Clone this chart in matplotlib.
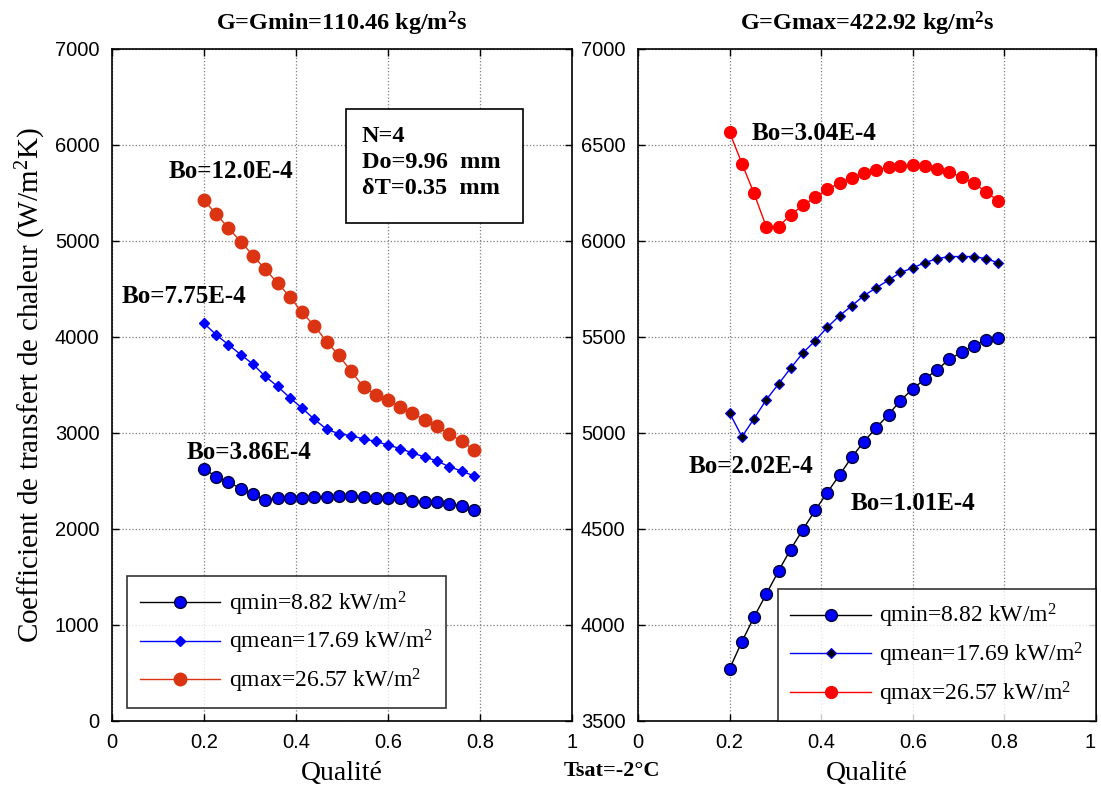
import matplotlib
matplotlib.use("Agg")
import matplotlib.pyplot as plt
from matplotlib.patches import Rectangle

plt.rcParams['mathtext.fontset'] = 'custom'
plt.rcParams['mathtext.rm'] = 'Liberation Serif'
plt.rcParams['mathtext.it'] = 'Liberation Serif:italic'
plt.rcParams['mathtext.bf'] = 'Liberation Serif:bold'

# ---------------- data ----------------
x_qual = [0.200, 0.227, 0.253, 0.280, 0.307, 0.333, 0.360, 0.387, 0.413, 0.440,
          0.467, 0.493, 0.520, 0.547, 0.573, 0.600, 0.627, 0.653, 0.680, 0.707,
          0.733, 0.760, 0.787]

# Left panel: G = Gmin
left_qmin = [2625, 2545, 2490, 2420, 2361, 2302, 2319, 2319, 2319, 2333,
             2337, 2340, 2340, 2337, 2323, 2323, 2319, 2295, 2281, 2278,
             2260, 2240, 2198]
left_qmean = [4142, 4021, 3920, 3816, 3715, 3590, 3486, 3365, 3260, 3142,
              3038, 2993, 2972, 2938, 2913, 2875, 2837, 2792, 2750, 2708,
              2649, 2604, 2552]
left_qmax = [5424, 5278, 5135, 4993, 4847, 4705, 4563, 4417, 4257, 4115,
             3951, 3809, 3642, 3479, 3396, 3340, 3274, 3212, 3132, 3069,
             2990, 2913, 2826]

# Right panel: G = Gmax
right_qmin = [3772, 3914, 4040, 4161, 4282, 4393, 4497, 4598, 4689, 4781,
              4875, 4954, 5027, 5096, 5169, 5230, 5282, 5330, 5384, 5422,
              5455, 5484, 5495]
right_qmean = [5104, 4981, 5073, 5173, 5256, 5337, 5417, 5481, 5550, 5611,
               5663, 5715, 5756, 5796, 5836, 5860, 5888, 5908, 5919, 5919,
               5919, 5908, 5886]
right_qmax = [6566, 6403, 6250, 6075, 6075, 6135, 6186, 6227, 6269, 6302,
              6330, 6352, 6372, 6384, 6392, 6394, 6392, 6373, 6359, 6332,
              6300, 6257, 6208]

legend_labels = [r"qmin=8.82 kW/m$^2$", r"qmean=17.69 kW/m$^2$", r"qmax=26.57 kW/m$^2$"]
titles = [r"G=Gmin=110.46 kg/m$^\mathbf{2}$s", r"G=Gmax=422.92 kg/m$^\mathbf{2}$s"]
x_ticks = [0, 0.2, 0.4, 0.6, 0.8, 1]
x_ticklabels = ["0", "0.2", "0.4", "0.6", "0.8", "1"]
left_yticks = [0, 1000, 2000, 3000, 4000, 5000, 6000, 7000]
right_yticks = [3500, 4000, 4500, 5000, 5500, 6000, 6500, 7000]

SERIF = "Liberation Serif"
SANS = "Liberation Sans"
LEFT_RED = "#DA3412"

fig = plt.figure(figsize=(11.01, 7.89), dpi=100)
W, H = 1101, 789
axL = fig.add_axes([112 / W, (H - 721) / H, 460 / W, 672 / H])
axR = fig.add_axes([638 / W, (H - 721) / H, 458 / W, 672 / H])


def style_axes(ax, yticks, ylim):
    ax.set_xlim(0, 1)
    ax.set_ylim(*ylim)
    ax.set_xticks(x_ticks)
    ax.set_xticklabels(x_ticklabels)
    ax.set_yticks(yticks)
    ax.set_yticklabels([str(v) for v in yticks])
    ax.tick_params(direction='in', top=True, right=True, length=5, width=1,
                   labelsize=14.5)
    ax.tick_params(axis='x', pad=9)
    ax.tick_params(axis='y', pad=9)
    for lab in ax.get_xticklabels() + ax.get_yticklabels():
        lab.set_fontfamily(SANS)
    ax.grid(True, linestyle=':', color='#7f7f7f', linewidth=0.9)
    for s in ax.spines.values():
        s.set_linewidth(1.2)
        s.set_color('black')
    ax.set_xlabel("Qualité", fontfamily=SERIF, fontsize=20, labelpad=6)


leg_kw = dict(borderaxespad=0, prop={'family': SERIF, 'size': 17},
              frameon=True, fancybox=False, edgecolor='black', handlelength=3.4,
              labelspacing=0.45, borderpad=0.55, handletextpad=0.35)

# ---- left panel ----
l1, = axL.plot(x_qual, left_qmin, '-', color='black', lw=1, marker='o', ms=8.5,
               mfc='#0000FF', mec='#000033', mew=1.0, label=legend_labels[0])
l2, = axL.plot(x_qual, left_qmean, '-', color='#0000FF', lw=1, marker='D', ms=5,
               mfc='#0000FF', mec='#0000FF', label=legend_labels[1])
l3, = axL.plot(x_qual, left_qmax, '-', color=LEFT_RED, lw=1, marker='o', ms=9,
               mfc=LEFT_RED, mec=LEFT_RED, label=legend_labels[2])
style_axes(axL, left_yticks, (0, 7000))
axL.set_ylabel(r"Coefficient de transfert de chaleur (W/m$^2$K)", fontfamily=SERIF,
               fontsize=21, labelpad=5)
axL.set_title(titles[0], fontfamily=SERIF, fontweight='bold', fontsize=17.5, pad=13)
legL = axL.legend(handles=[l1, l2, l3], loc='lower left',
                  bbox_to_anchor=(0.033, 0.019), **leg_kw)
legL.get_frame().set_linewidth(1.2)

# ---- right panel ----
r1, = axR.plot(x_qual, right_qmin, '-', color='black', lw=1, marker='o', ms=8.5,
               mfc='#0000FF', mec='#000033', mew=1.0, label=legend_labels[0])
r2, = axR.plot(x_qual, right_qmean, '-', color='#0000FF', lw=1, marker='D', ms=5,
               mfc='black', mec='#0000FF', mew=0.8, label=legend_labels[1])
r3, = axR.plot(x_qual, right_qmax, '-', color='#FF0000', lw=1, marker='o', ms=8.5,
               mfc='#FF0000', mec='#FF0000', label=legend_labels[2])
style_axes(axR, right_yticks, (3500, 7000))
axR.get_xticklabels()[-1].set_horizontalalignment('right')
axR.set_title(titles[1], fontfamily=SERIF, fontweight='bold', fontsize=17.5, pad=13)
legR = axR.legend(handles=[r1, r2, r3], loc='lower right',
                  bbox_to_anchor=(1.0, 0.0), **leg_kw)
legR.get_frame().set_linewidth(1.2)

# ---- annotations ----
bo_kw = dict(fontfamily=SERIF, fontweight='bold', fontsize=18, va='center', ha='left')
axL.text(0.123, 5720, "Bo=12.0E-4", **bo_kw)
axL.text(0.022, 4420, "Bo=7.75E-4", **bo_kw)
axL.text(0.163, 2800, "Bo=3.86E-4", **bo_kw)
axR.text(0.247, 6560, "Bo=3.04E-4", **bo_kw)
axR.text(0.111, 4823, "Bo=2.02E-4", **bo_kw)
axR.text(0.465, 4635, "Bo=1.01E-4", **bo_kw)

# parameter box
axL.add_patch(Rectangle(((346 - 112) / 460, (721 - 223) / 672), (523 - 346) / 460,
                        (223 - 109) / 672, transform=axL.transAxes, fill=True,
                        facecolor='white', edgecolor='black', lw=1.2, zorder=3))
box_kw = dict(fontfamily=SERIF, fontweight='bold', fontsize=17.5, va='center',
              ha='left', transform=axL.transAxes, zorder=4)
axL.text((362 - 112) / 460, (721 - 137) / 672, "N=4", **box_kw)
axL.text((362 - 112) / 460, (721 - 163) / 672, "Do=9.96  mm", **box_kw)
axL.text((362 - 112) / 460, (721 - 189) / 672, "δT=0.35  mm", **box_kw)

fig.text(612 / W, 1 - 771 / H, "Tsat=-2°C", fontfamily=SERIF, fontweight='bold',
         fontsize=16, ha='center', va='center')

fig.savefig("out.png", dpi=100)
